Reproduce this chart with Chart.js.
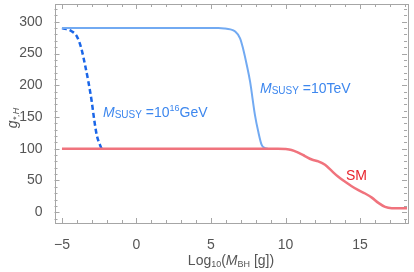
<!DOCTYPE html>
<html>
<head>
<meta charset="utf-8">
<script src="https://cdn.jsdelivr.net/npm/chart.js@4.4.0/dist/chart.umd.min.js"></script>
<style>
  html, body { margin: 0; padding: 0; background: #fff; }
  #wrap { width: 414px; height: 272px; }
</style>
</head>
<body>
<div id="wrap"><canvas id="myChart" width="414" height="272"></canvas></div>
<script>
// SM curve
const smX = [-5, 9.5, 9.97, 10.4, 10.86, 11.3, 11.76, 12.2, 12.65, 13.1, 13.54, 14.0, 14.44, 14.89, 15.34, 15.79, 16.23, 16.68, 17.13, 17.5, 18.15];
const smY = [100, 100, 99.5, 98, 93.7, 88.5, 83, 80, 74.7, 65, 55.8, 48, 41, 34.7, 29.5, 23, 14.7, 8.4, 6.3, 6.2, 6.2];
// M_SUSY = 10 TeV
const tevX = [-5, 5.5, 5.9, 6.3, 6.6, 6.95, 7.15, 7.4, 7.62, 7.95, 8.17, 8.4, 8.62, 8.8];
const tevY = [290, 290, 289.5, 288, 285, 274, 258, 232, 206, 153, 127, 106, 101, 100];
// M_SUSY = 10^16 GeV
const gutX = [-5, -4.7, -4.35, -4.0, -3.7, -3.45, -3.23, -3.0, -2.85, -2.67, -2.45, -2.34];
const gutY = [290, 288.5, 285, 277, 258, 232, 206, 174, 148, 122, 106, 100];

const xTicks = [-5, 0, 5, 10, 15];
const yTicks = [0, 50, 100, 150, 200, 250, 300];

const pts = (xs, ys) => xs.map((x, i) => ({ x: x, y: ys[i] }));
const FONT = '"Liberation Sans", Arial, sans-serif';

// frame, inward ticks, axis titles and labels
const framePlugin = {
  id: 'frame',
  afterDraw(chart) {
    const c = chart.ctx, a = chart.chartArea;
    const xs = chart.scales.x, ys = chart.scales.y;
    c.save();
    c.strokeStyle = '#a6a6a6';
    c.lineWidth = 1;
    c.strokeRect(Math.round(a.left) + 0.5, Math.round(a.top) + 0.5, Math.round(a.right - a.left), Math.round(a.bottom - a.top));
    c.beginPath();
    for (let v = -5; v <= 18; v++) {
      const p = Math.round(xs.getPixelForValue(v)) + 0.5;
      const len = (v % 5 === 0) ? 5 : 3;
      c.moveTo(p, a.bottom); c.lineTo(p, a.bottom - len);
      c.moveTo(p, a.top); c.lineTo(p, a.top + len);
    }
    for (let v = -10; v <= 320; v += 10) {
      const p = Math.round(ys.getPixelForValue(v)) + 0.5;
      const len = (v % 50 === 0) ? 5 : 3;
      c.moveTo(a.left, p); c.lineTo(a.left + len, p);
      c.moveTo(a.right, p); c.lineTo(a.right - len, p);
    }
    c.stroke();

    // rich text helper
    function rich(parts, x, y, color) {
      c.fillStyle = color;
      c.textBaseline = 'alphabetic';
      c.textAlign = 'left';
      let cx = x;
      parts.forEach(p => {
        c.font = (p.it ? 'italic ' : '') + p.size + 'px ' + FONT;
        c.fillText(p.t, cx, y + (p.dy || 0));
        cx += c.measureText(p.t).width;
      });
      return cx - x;
    }
    function width(parts) {
      let w = 0;
      parts.forEach(p => {
        c.font = (p.it ? 'italic ' : '') + p.size + 'px ' + FONT;
        w += c.measureText(p.t).width;
      });
      return w;
    }

    // x title
    const xt = [
      { t: 'Log', size: 14 }, { t: '10', size: 9, dy: 2 },
      { t: '(', size: 14 }, { t: 'M', size: 14, it: true },
      { t: 'BH', size: 9, dy: 2 }, { t: ' [g])', size: 14 }
    ];
    rich(xt, 231 - width(xt) / 2, 265, '#555');

    // y title
    c.save();
    c.translate(17, 118);
    c.rotate(-Math.PI / 2);
    const yt = [{ t: 'g', size: 14, it: true }, { t: '*,H', size: 9, it: true, dy: 2 }];
    rich(yt, -width(yt) / 2, 0, '#555');
    c.restore();

    // curve labels
    const blue = '#3d87ee';
    rich([
      { t: 'M', size: 14, it: true }, { t: 'SUSY', size: 10, dy: 1 },
      { t: ' =10', size: 14 }, { t: '16', size: 9, dy: -6 }, { t: 'GeV', size: 14 }
    ], 103, 117, blue);
    rich([
      { t: 'M', size: 14, it: true }, { t: 'SUSY', size: 10, dy: 1 },
      { t: ' =10TeV', size: 14 }
    ], 260, 93, blue);
    rich([{ t: 'SM', size: 14 }], 346, 180, '#e8232d');
    c.restore();
  }
};

const ctx = document.getElementById('myChart').getContext('2d');
const myChart = new Chart(ctx, {
  type: 'line',
  data: {
    datasets: [
      {
        label: 'SM',
        data: pts(smX, smY),
        borderColor: '#f0737d',
        borderWidth: 2.5,
        pointRadius: 0,
        cubicInterpolationMode: 'monotone',
        fill: false
      },
      {
        label: '10TeV',
        data: pts(tevX, tevY),
        borderColor: '#72aaf2',
        borderWidth: 2,
        pointRadius: 0,
        cubicInterpolationMode: 'monotone',
        fill: false
      },
      {
        label: '10^16GeV',
        data: pts(gutX, gutY),
        borderColor: '#1a66e8',
        borderWidth: 2.5,
        borderDash: [5, 3],
        pointRadius: 0,
        cubicInterpolationMode: 'monotone',
        fill: false
      }
    ]
  },
  options: {
    responsive: false,
    animation: false,
    layout: { padding: { top: 4, right: 7, left: 0, bottom: 0 } },
    plugins: { legend: { display: false }, tooltip: { enabled: false } },
    scales: {
      x: {
        type: 'linear',
        min: -5.5,
        max: 18.15,
        afterBuildTicks: s => { s.ticks = xTicks.map(v => ({ value: v })); },
        afterFit: s => { s.height = 49; s.paddingLeft = 0; s.paddingRight = 0; },
        grid: { display: false },
        border: { display: false },
        ticks: {
          padding: 6,
          color: '#555',
          font: { family: FONT, size: 14 },
          callback: v => (v < 0 ? '\u2212' + Math.abs(v) : '' + v)
        }
      },
      y: {
        min: -17,
        max: 328,
        afterBuildTicks: s => { s.ticks = yTicks.map(v => ({ value: v })); },
        afterFit: s => { s.width = 54.5; s.paddingTop = 0; s.paddingBottom = 0; },
        grid: { display: false },
        border: { display: false },
        ticks: {
          padding: 4,
          color: '#555',
          font: { family: FONT, size: 14 }
        }
      }
    }
  },
  plugins: [framePlugin]
});
</script>
</body>
</html>
